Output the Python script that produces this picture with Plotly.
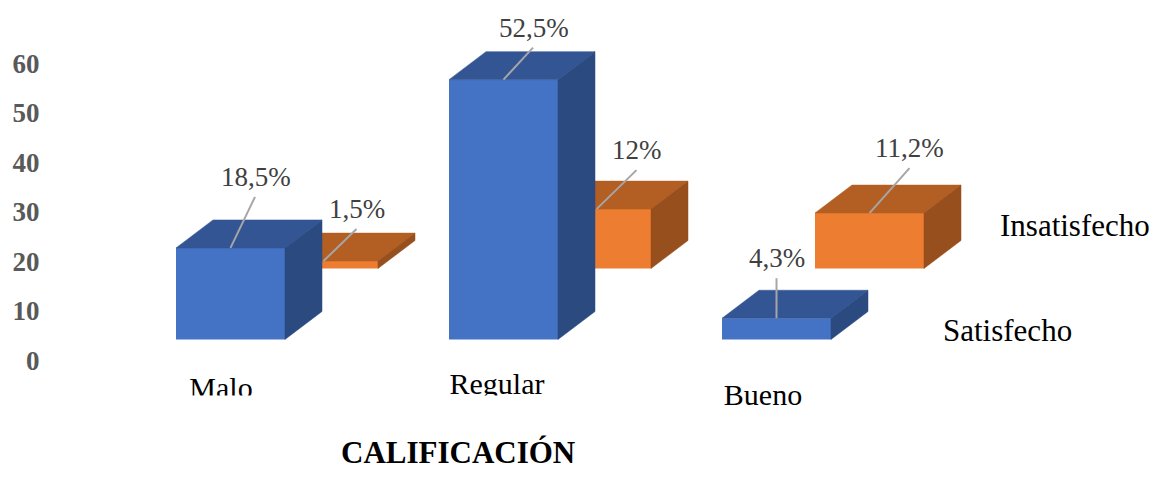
import plotly.graph_objects as go

# ---- data ----
categories = ["Malo", "Regular", "Bueno"]
satisfecho = [18.5, 52.5, 4.3]
insatisfecho = [1.5, 12.0, 11.2]
satisfecho_labels = ["18,5%", "52,5%", "4,3%"]
insatisfecho_labels = ["1,5%", "12%", "11,2%"]
y_ticks = [0, 10, 20, 30, 40, 50, 60]
series_names = ["Satisfecho", "Insatisfecho"]
axis_title = "CALIFICACIÓN"

# ---- layout geometry (pixels of the 1163x478 page) ----
W, H = 1163, 478
LEFT = 48
PX_PER_CAT = 273.0
PX_PER_UNIT = 4.95
ZERO_PX = 360.5
FIRST_CENTER_PX = 230.5


def xd(px):
    return (px - FIRST_CENTER_PX) / PX_PER_CAT


def yd(px):
    return (ZERO_PX - px) / PX_PER_UNIT


BAR_W = 109 / PX_PER_CAT
DX = 37 / PX_PER_CAT
DY = 28 / PX_PER_UNIT
ROW_DX = 93 / PX_PER_CAT
ROW_DY = 71 / PX_PER_UNIT
BASE = 21 / PX_PER_UNIT

xrange_ = [xd(LEFT), xd(W)]
yrange_ = [yd(H), yd(0)]

SERIF = "Liberation Serif"
BLUE = ("#4472C4", "#335593", "#2A4A80")
ORANGE = ("#ED7D31", "#B35E22", "#974F1D")


def faces(centers, values, base):
    """Top and side polygons of the extruded bars, from the series values."""
    tx, ty, sx, sy = [], [], [], []
    for c, v in zip(centers, values):
        l, r, t = c - BAR_W / 2, c + BAR_W / 2, base + v
        tx += [l, l + DX, r + DX, r, l, None]
        ty += [t, t + DY, t + DY, t, t, None]
        sx += [r, r + DX, r + DX, r, r, None]
        sy += [base, base + DY, t + DY, t, base, None]
    return (tx, ty), (sx, sy)


def add_row(fig, name, centers, values, base, colors, xa, ya):
    fig.add_trace(go.Bar(x=centers, y=values, base=base, width=BAR_W, name=name,
                         marker=dict(color=colors[0], line=dict(width=0)),
                         xaxis=xa, yaxis=ya, showlegend=False))
    (tx, ty), (sx, sy) = faces(centers, values, base)
    for (px_, py_), col in (((tx, ty), colors[1]), ((sx, sy), colors[2])):
        fig.add_trace(go.Scatter(x=px_, y=py_, mode="lines", fill="toself",
                                 fillcolor=col, line=dict(width=0.5, color=col),
                                 hoverinfo="skip", xaxis=xa, yaxis=ya, showlegend=False))


fig = go.Figure()
idx = list(range(len(categories)))
orange_centers = [i + ROW_DX for i in idx]

# back row first, front row in an overlaid subplot so it hides the back row
add_row(fig, series_names[1], orange_centers, insatisfecho, BASE + ROW_DY, ORANGE, "x", "y")
add_row(fig, series_names[0], idx, satisfecho, BASE, BLUE, "x2", "y2")

# category labels (real text, trimmed at the bottom as in the reference)
cat_px = [(221, 390), (497, 386), (763, 397)]
fig.add_trace(go.Scatter(x=[xd(p[0]) for p in cat_px], y=[yd(p[1]) for p in cat_px],
                         mode="text", text=categories, textposition="middle center",
                         textfont=dict(family=SERIF, size=30, color="#000000"),
                         hoverinfo="skip", xaxis="x2", yaxis="y2", showlegend=False))

annotations = []
# data labels: text offset and leader-line end (px) from the top-centre of each front face
rows = (
    (idx, satisfecho, BASE, satisfecho_labels,
     [(25, -71), (30, -52), (0, -60)], [(24.5, -51), (29.5, -32), (0, -40)]),
    (orange_centers, insatisfecho, BASE + ROW_DY, insatisfecho_labels,
     [(33, -52), (40, -59), (40, -65)], [(33, -32), (40, -39), (40, -45)]),
)
lx, ly = [], []
for xs, vals, base, labs, text_off, line_off in rows:
    for x, v, lab, (ax, ay), (ex, ey) in zip(xs, vals, labs, text_off, line_off):
        top = base + v
        lx += [x, x + ex / PX_PER_CAT, None]
        ly += [top, top - ey / PX_PER_UNIT, None]
        annotations.append(dict(x=x, y=top, xref="x", yref="y", text=lab,
                                xshift=ax, yshift=-ay, showarrow=False,
                                font=dict(family=SERIF, size=27, color="#404040")))
fig.add_trace(go.Scatter(x=lx, y=ly, mode="lines", line=dict(color="#A6A6A6", width=2),
                         hoverinfo="skip", xaxis="x2", yaxis="y2", showlegend=False))

for name, px_, py_ in ((series_names[1], 1075, 225), (series_names[0], 1007, 330)):
    annotations.append(dict(x=xd(px_), y=yd(py_), xref="x", yref="y", text=name,
                            showarrow=False,
                            font=dict(family=SERIF, size=31, color="#000000")))
annotations.append(dict(x=xd(458), y=yd(452), xref="x", yref="y",
                        text="<b>" + axis_title + "</b>", showarrow=False,
                        font=dict(family=SERIF, size=31, color="#000000")))

fig.update_layout(
    width=W, height=H, margin=dict(l=LEFT, r=0, t=0, b=0, pad=0),
    paper_bgcolor="white", plot_bgcolor="white", showlegend=False,
    xaxis=dict(range=xrange_, visible=False, fixedrange=True),
    xaxis2=dict(range=xrange_, visible=False, overlaying="x", matches="x"),
    yaxis=dict(range=yrange_, tickmode="array", tickvals=y_ticks,
               ticktext=[f"<b>{t}</b>" for t in y_ticks], showgrid=False,
               zeroline=False, showline=False, ticks="outside", ticklen=2,
               tickcolor="rgba(255,255,255,0)",
               tickfont=dict(family=SERIF, size=27, color="#595959")),
    yaxis2=dict(range=yrange_, visible=False, overlaying="y", matches="y"),
    annotations=annotations,
    shapes=[
        dict(type="rect", layer="above", xref="x", yref="y", x0=xd(170), x1=xd(280),
             y0=yd(395.5), y1=yd(415), fillcolor="white", line=dict(width=0)),
        dict(type="rect", layer="above", xref="x", yref="y", x0=xd(440), x1=xd(560),
             y0=yd(395.5), y1=yd(415), fillcolor="white", line=dict(width=0)),
    ],
)

fig.write_html("out.html", config=dict(displayModeBar=False),
               post_script="document.body.style.margin='0';document.documentElement.style.overflow='hidden';")
